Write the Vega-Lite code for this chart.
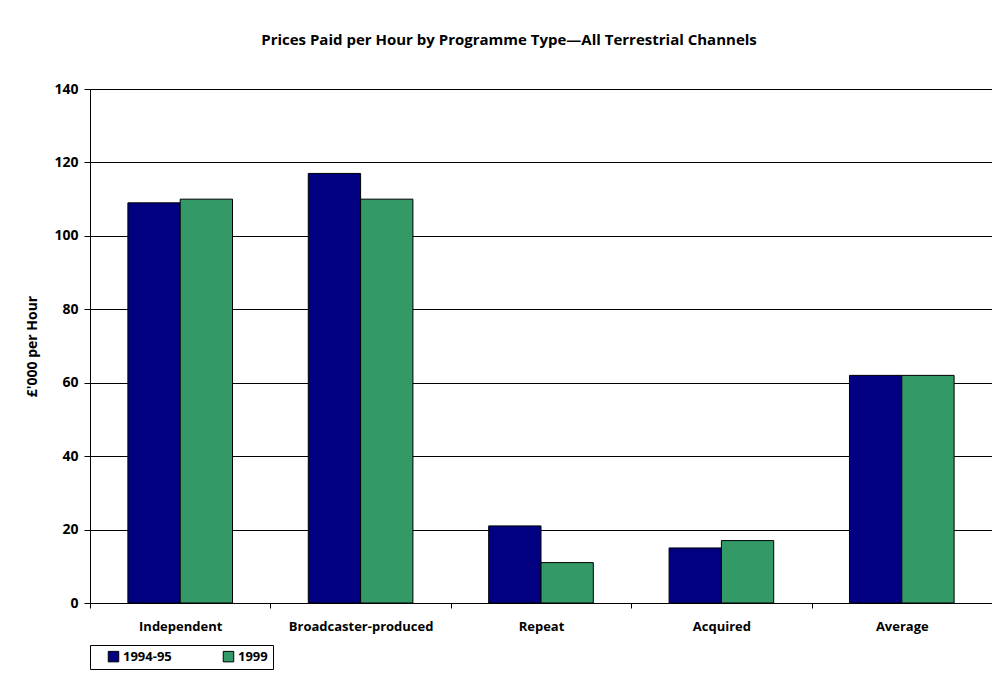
{
  "$schema": "https://vega.github.io/schema/vega-lite/v6.json",
  "width": 902,
  "height": 514,
  "autosize": {"type": "none"},
  "padding": {"left": 90, "top": 89, "right": 0, "bottom": 76},
  "background": "white",
  "title": {
    "text": "Prices Paid per Hour by Programme Type—All Terrestrial Channels",
    "anchor": "middle",
    "frame": "bounds",
    "font": "Open Sans",
    "fontSize": 15,
    "fontWeight": "bold",
    "color": "black",
    "offset": 34
  },
  "data": {
    "values": [
      {"type": "Independent", "period": "1994-95", "value": 109},
      {"type": "Independent", "period": "1999", "value": 110},
      {"type": "Broadcaster-produced", "period": "1994-95", "value": 117},
      {"type": "Broadcaster-produced", "period": "1999", "value": 110},
      {"type": "Repeat", "period": "1994-95", "value": 21},
      {"type": "Repeat", "period": "1999", "value": 11},
      {"type": "Acquired", "period": "1994-95", "value": 15},
      {"type": "Acquired", "period": "1999", "value": 17},
      {"type": "Average", "period": "1994-95", "value": 62},
      {"type": "Average", "period": "1999", "value": 62}
    ]
  },
  "mark": {"type": "bar", "stroke": "black", "strokeWidth": 1},
  "encoding": {
    "x": {
      "field": "type",
      "type": "nominal",
      "sort": null,
      "scale": {"paddingInner": 0.42, "paddingOuter": 0.21},
      "axis": {
        "title": null,
        "labelAngle": 0,
        "bandPosition": 0,
        "tickOffset": -37.9,
        "labelOffset": 37.9,
        "grid": false,
        "tickSize": 5,
        "tickColor": "black",
        "domainColor": "black",
        "labelPadding": 12,
        "labelFont": "Open Sans",
        "labelFontSize": 13,
        "labelFontWeight": "bold",
        "labelColor": "black"
      }
    },
    "xOffset": {"field": "period", "type": "nominal", "scale": {"paddingInner": 0, "paddingOuter": 0}},
    "y": {
      "field": "value",
      "type": "quantitative",
      "scale": {"domain": [0, 140]},
      "axis": {
        "title": "£'000 per Hour",
        "titleFont": "Open Sans",
        "titleFontSize": 14,
        "titleFontWeight": "bold",
        "titleColor": "black",
        "titlePadding": 14,
        "values": [0, 20, 40, 60, 80, 100, 120, 140],
        "grid": true,
        "gridColor": "black",
        "gridOpacity": 1,
        "tickSize": 6,
        "tickColor": "black",
        "domainColor": "black",
        "labelPadding": 6,
        "labelFont": "Open Sans",
        "labelFontSize": 14,
        "labelFontWeight": "bold",
        "labelColor": "black"
      }
    },
    "color": {
      "field": "period",
      "type": "nominal",
      "scale": {"domain": ["1994-95", "1999"], "range": ["#000080", "#339966"]},
      "legend": {
        "title": null,
        "orient": "none",
        "direction": "horizontal",
        "legendX": 0,
        "legendY": 556,
        "symbolType": "square",
        "symbolSize": 110,
        "symbolOffset": 12,
        "symbolStrokeColor": "black",
        "symbolStrokeWidth": 1,
        "labelFont": "Open Sans",
        "labelFontSize": 13,
        "labelFontWeight": "bold",
        "labelColor": "black",
        "labelOffset": 3,
        "columnPadding": 38,
        "padding": 5,
        "strokeColor": "black",
        "fillColor": "white"
      }
    }
  },
  "config": {
    "view": {"stroke": null},
    "axis": {"domainWidth": 1, "gridWidth": 1, "tickWidth": 1}
  }
}
